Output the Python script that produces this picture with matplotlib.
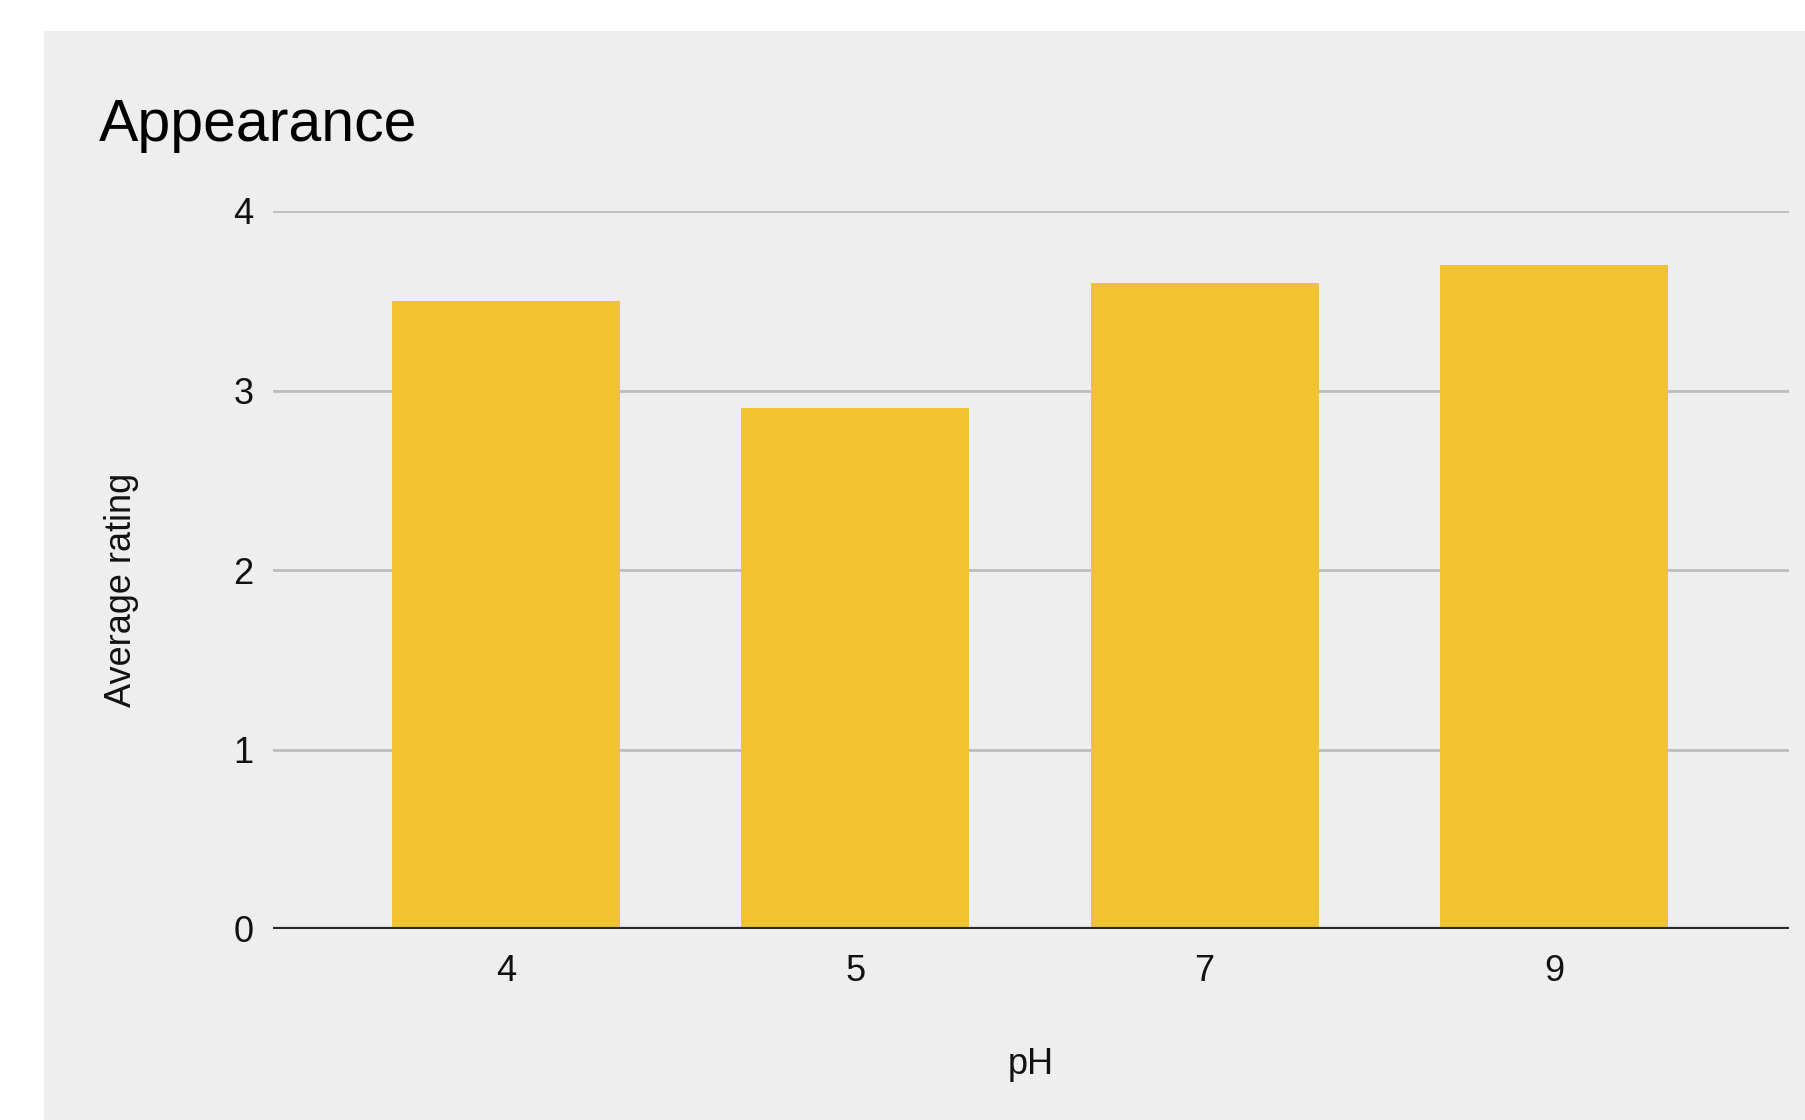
import matplotlib
matplotlib.use("Agg")
import matplotlib.pyplot as plt
from matplotlib.patches import Rectangle

categories = ["4", "5", "7", "9"]
ratings = [3.5, 2.9, 3.6, 3.7]
y_ticks = [0, 1, 2, 3, 4]

plt.rcParams["font.family"] = ["Liberation Sans", "DejaVu Sans"]

W, H = 1806, 1120
fig = plt.figure(figsize=(W / 100, H / 100), dpi=100)
fig.patch.set_facecolor("white")

# grey chart card, kept behind the axes
fig.patches.append(Rectangle((44 / W, 0), 1, 1 - 31 / H, transform=fig.transFigure,
                             facecolor="#eeeeee", edgecolor="none", zorder=-10))

ax = fig.add_axes([273 / W, 1 - 929 / H, (1789 - 273) / W, (929 - 211) / H])
ax.set_zorder(5)
ax.set_facecolor("none")

x = range(len(categories))
ax.bar(x, ratings, width=0.653, color="#f1c232", zorder=3)

ax.set_xlim(-0.667, 3.673)
ax.set_ylim(0, 4)
ax.set_yticks(y_ticks)
ax.set_xticks(list(x))
ax.set_xticklabels(categories)

for t in y_ticks[1:]:
    ax.axhline(t, color="#bdbdbd", lw=2, zorder=1)
ax.axhline(0, color="#2a2a2a", lw=3, zorder=4)

txt = "#111111"
for s in ax.spines.values():
    s.set_visible(False)
ax.tick_params(axis="both", length=0, labelsize=26, colors=txt)
ax.tick_params(axis="y", pad=14)
ax.tick_params(axis="x", pad=18)

ax.set_xlabel("pH", fontsize=26, color=txt, labelpad=42)
fig.text(122 / W, 1 - 590 / H, "Average rating", rotation=90, fontsize=26,
         color=txt, ha="center", va="center")

fig.text(99 / W, 1 - 141 / H, "Appearance", fontsize=42.5, color="black",
         ha="left", va="baseline")

fig.savefig("out.png", dpi=100, facecolor=fig.get_facecolor())
